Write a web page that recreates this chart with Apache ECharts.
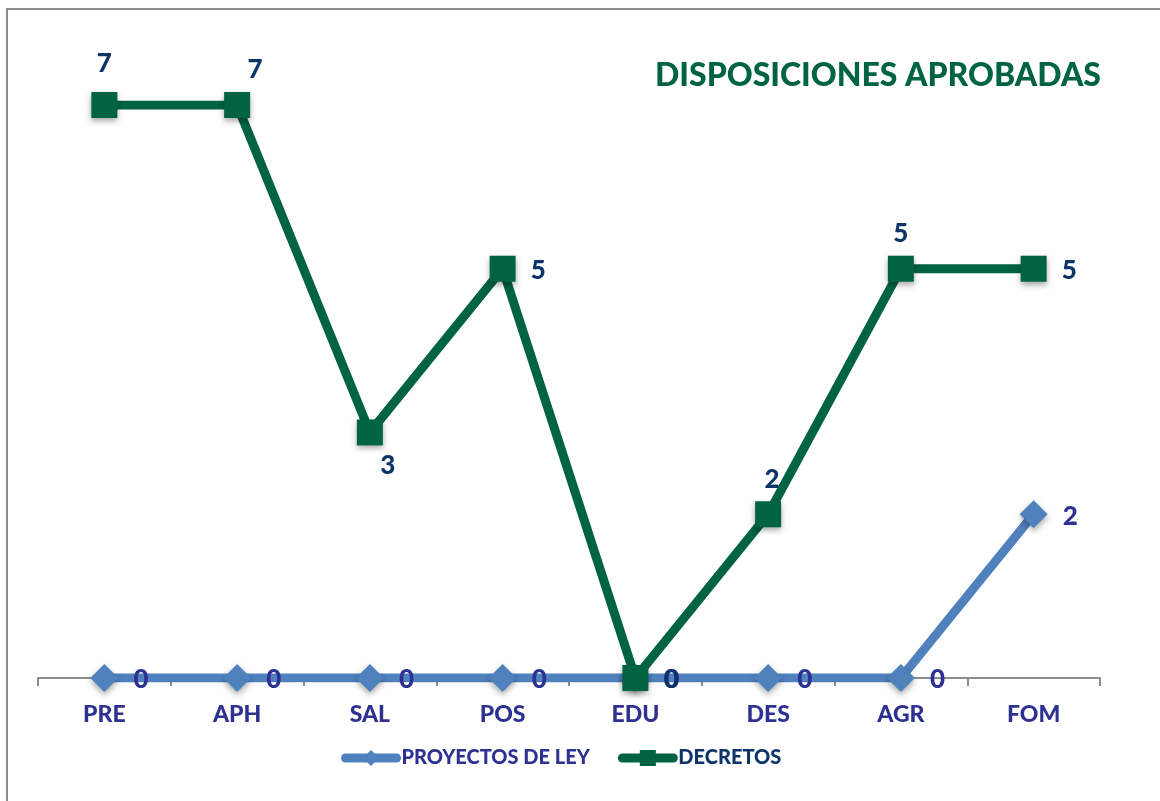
<!DOCTYPE html>
<html>
<head>
<meta charset="utf-8">
<title>Disposiciones aprobadas</title>
<script src="https://cdn.jsdelivr.net/npm/echarts@6/dist/echarts.min.js"></script>
<style>
  html, body { margin: 0; padding: 0; background: #fff; }
  #chart { width: 1160px; height: 801px; }
</style>
</head>
<body>
<div id="chart"></div>
<script>
const categories = ['PRE', 'APH', 'SAL', 'POS', 'EDU', 'DES', 'AGR', 'FOM'];
const proyectos = [0, 0, 0, 0, 0, 0, 0, 2];
const decretos = [7, 7, 3, 5, 0, 2, 5, 5];

// where each DECRETOS label sits relative to its point
const decretosLabelPos = [
  { position: 'top', offset: [0, -10] },
  { position: 'top', offset: [18, -4] },
  { position: 'bottom', offset: [18, 2] },
  { position: 'right', offset: [10, 2] },
  { position: 'right', offset: [10, 2] },
  { position: 'top', offset: [4, -4] },
  { position: 'top', offset: [0, -4] },
  { position: 'right', offset: [10, 2] },
];

const BLUE = '#4f81bd';
const GREEN = '#006341';
const LABEL_BLUE = '#2e3192';
const LABEL_NAVY = '#0d3469';
const font = 'Lato, "Open Sans", sans-serif';

const chart = echarts.init(document.getElementById('chart'));

const option = {
  animation: false,
  title: {
    text: 'DISPOSICIONES APROBADAS',
    right: 54,
    top: 55,
    textStyle: { color: GREEN, fontFamily: font, fontWeight: 900, fontSize: 32 }
  },
  legend: {
    left: 336,
    top: 743,
    itemWidth: 51,
    itemHeight: 20,
    itemGap: 28,
    lineStyle: { width: 9, cap: 'round' },
    data: [
      { name: 'PROYECTOS DE LEY', textStyle: { color: LABEL_BLUE } },
      { name: 'DECRETOS', textStyle: { color: LABEL_NAVY } }
    ],
    textStyle: { fontFamily: font, fontWeight: 900, fontSize: 20 }
  },
  grid: { left: 38, right: 60, top: 105, bottom: 123 },
  xAxis: {
    type: 'category',
    data: categories,
    boundaryGap: true,
    axisLine: { lineStyle: { color: '#8c8c8c', width: 2 } },
    axisTick: { show: true, length: 8, interval: 0, lineStyle: { color: '#8c8c8c', width: 2 } },
    axisLabel: { color: LABEL_BLUE, fontFamily: font, fontWeight: 900, fontSize: 23, margin: 25 }
  },
  yAxis: {
    type: 'value',
    min: 0,
    max: 7,
    show: false,
    splitLine: { show: false }
  },
  graphic: [{
    type: 'rect',
    shape: { x: 7, y: 9, width: 1300, height: 1000 },
    style: { fill: 'none', stroke: '#8c8c8c', lineWidth: 2 },
    silent: true
  }],
  series: [
    {
      name: 'PROYECTOS DE LEY',
      type: 'line',
      data: proyectos,
      symbol: 'diamond',
      symbolSize: 28,
      z: 2,
      lineStyle: { color: BLUE, width: 9 },
      itemStyle: { color: BLUE, shadowBlur: 6, shadowColor: 'rgba(0,0,0,0.35)', shadowOffsetY: 3 },
      label: {
        show: true,
        position: 'right',
        offset: [10, 2],
        color: LABEL_BLUE,
        fontFamily: font,
        fontWeight: 900,
        fontSize: 26
      }
    },
    {
      name: 'DECRETOS',
      type: 'line',
      z: 3,
      data: decretos.map((v, i) => ({ value: v, label: decretosLabelPos[i] })),
      symbol: 'rect',
      symbolSize: 26,
      lineStyle: { color: GREEN, width: 9 },
      itemStyle: { color: GREEN, shadowBlur: 6, shadowColor: 'rgba(0,0,0,0.35)', shadowOffsetY: 3 },
      label: {
        show: true,
        color: LABEL_NAVY,
        fontFamily: font,
        fontWeight: 900,
        fontSize: 26
      }
    }
  ]
};

chart.setOption(option);
</script>
</body>
</html>
